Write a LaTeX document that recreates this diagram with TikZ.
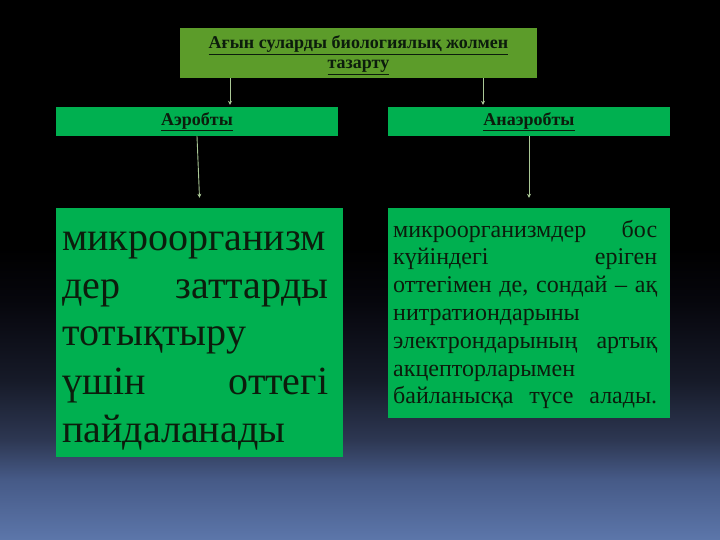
\documentclass[tikz,border=0pt]{standalone}
\usepackage{fontspec}
\setmainfont{Liberation Serif}
\usetikzlibrary{arrows.meta}
\definecolor{bgA}{RGB}{92,118,170}
\definecolor{bgB}{RGB}{70,90,135}
\definecolor{bgC}{RGB}{45,55,82}
\definecolor{bgD}{RGB}{22,26,40}
\definecolor{bgE}{RGB}{6,6,12}
\definecolor{olivebox}{RGB}{92,156,42}
\definecolor{greenbox}{RGB}{0,176,80}
\definecolor{arrcol}{RGB}{170,200,150}
\definecolor{txt}{RGB}{12,28,12}
\pgfdeclareverticalshading{bgshade}{100bp}{color(0bp)=(bgA); color(25bp)=(bgA); color(30.6bp)=(bgB); color(34.3bp)=(bgC); color(39.8bp)=(bgD); color(47.2bp)=(bgE); color(52bp)=(black); color(100bp)=(black)}
\begin{document}
\begin{tikzpicture}[x=1pt,y=-1pt,
  topbox/.style={fill=olivebox, draw=none, minimum width=357pt, minimum height=50pt, inner sep=0pt, text=txt, align=center, font=\fontsize{18}{20}\selectfont\bfseries},
  midbox/.style={fill=greenbox, draw=none, minimum width=282pt, minimum height=29pt, inner sep=0pt, text=txt, font=\fontsize{18}{20}\selectfont\bfseries},
  bigbox/.style={fill=greenbox, draw=none, inner sep=0pt},
  bodytext/.style={anchor=base west, inner sep=0pt, text=txt, align=left},
  arr/.style={draw=arrcol, line width=0.9pt, -{Stealth[length=4pt,width=4pt]}}
]
\useasboundingbox (0,0) rectangle (720,540);
\shade[shading=bgshade] (0,0) rectangle (720,540);

\node[topbox] (top) at (358.5,53) {};
\node[inner sep=0pt, text=txt, align=center, font=\fontsize{18}{20}\selectfont\bfseries] (title) at (358.5,55.5) {\underline{Ағын суларды биологиялық жолмен}\\\underline{тазарту}};
\node[midbox] (aer) at (197,121.5) {\underline{Аэробты}};
\node[midbox] (anaer) at (529,121.5) {\underline{Анаэробты}};
\node[bigbox, minimum width=287pt, minimum height=249pt] (lb) at (199.5,332.5) {};
\node[bigbox, minimum width=282pt, minimum height=210pt] (rb) at (529,313) {};

\node[bodytext, text width=266pt, font=\fontsize{40}{48}\selectfont] (lt) at (62,250)
  {микроорганизм\\дер\hfill заттарды\\тотықтыру\\үшін\hfill оттегі\\пайдаланады};
\node[bodytext, text width=264pt, font=\fontsize{24}{27.8}\selectfont] (rt) at (393,237)
  {микроорганизмдер\hfill бос\\күйіндегі\hfill еріген\\оттегімен\hfill де,\hfill сондай\hfill –\hfill ақ\\нитратиондарыны\\электрондарының\hfill артық\\акцепторларымен\\байланысқа\hfill түсе\hfill алады.};

\coordinate (a1) at (230,0);
\coordinate (a2) at (483,0);
\draw[arr] (top.south -| a1) -- ([yshift=2pt]aer.north -| a1);
\draw[arr] (top.south -| a2) -- ([yshift=2pt]anaer.north -| a2);
\draw[arr] (aer.south) -- ([yshift=10pt]lb.north);
\draw[arr] (anaer.south) -- ([yshift=10pt]rb.north);
\end{tikzpicture}
\end{document}
